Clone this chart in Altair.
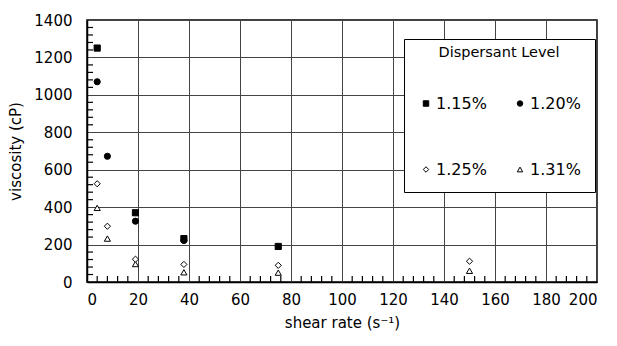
import altair as alt
import pandas as pd

levels = ["1.15%", "1.20%", "1.25%", "1.31%"]
shapes = ["square", "circle", "diamond", "triangle-up"]
fills = ["black", "black", "white", "white"]

rate_115 = [4, 19, 38, 75]
visc_115 = [1250, 370, 232, 190]
rate_120 = [4, 8, 19, 38]
visc_120 = [1070, 672, 325, 222]
rate_125 = [4, 8, 19, 38, 75, 150]
visc_125 = [525, 298, 122, 94, 89, 111]
rate_131 = [4, 8, 19, 38, 75, 150]
visc_131 = [396, 232, 96, 52, 50, 60]

x_major = list(range(0, 201, 20))
y_major = list(range(0, 1401, 200))
x_minor = [v for v in range(0, 201, 4) if v % 20 != 0]
y_minor = [v for v in range(0, 1401, 40) if v % 200 != 0]

rows = []
for lvl, xs, ys in [("1.31%", rate_131, visc_131), ("1.25%", rate_125, visc_125),
                    ("1.20%", rate_120, visc_120), ("1.15%", rate_115, visc_115)]:
    for x, y in zip(xs, ys):
        rows.append({"rate": x, "visc": y, "level": lvl})
df = pd.DataFrame(rows)

W, H = 510, 262
FONT = "DejaVu Sans"
TL = 6

xscale = alt.Scale(domain=[0, 200], nice=False, zero=True)
yscale = alt.Scale(domain=[0, 1400], nice=False, zero=True)

xaxis = alt.Axis(values=x_major, grid=True, tickSize=0, labelPadding=10, orient="bottom",
                 titlePadding=8, labelOverlap=False, format="d")
yaxis = alt.Axis(values=y_major, grid=True, tickSize=0, labelPadding=15, orient="left",
                 titlePadding=10, labelOverlap=False, format="d")

legend = alt.Legend(
    title="Dispersant Level", orient="none", legendX=317, legendY=19,
    columns=2, direction="horizontal", padding=14, titlePadding=28, rowPadding=50,
    columnPadding=25, titleBaseline="middle",
    titleAnchor="middle", titleFontSize=14.5, titleFontWeight="normal",
    labelFontSize=16, symbolSize=30, labelOffset=2,
    strokeColor="black", fillColor="white",
    symbolStrokeColor="black", symbolStrokeWidth=1,
)

points = alt.Chart(df).mark_point(filled=True, strokeWidth=1, opacity=1, size=38).encode(
    x=alt.X("rate:Q", scale=xscale, title="shear rate (s⁻¹)", axis=xaxis),
    y=alt.Y("visc:Q", scale=yscale, title="viscosity (cP)", axis=yaxis),
    shape=alt.Shape("level:N", scale=alt.Scale(domain=levels, range=shapes), legend=legend),
    fill=alt.Fill("level:N", scale=alt.Scale(domain=levels, range=fills), legend=legend),
    stroke=alt.Stroke("level:N", scale=alt.Scale(domain=levels, range=["black"] * 4), legend=legend),
)

xminor = alt.Chart(pd.DataFrame({"rate": x_minor})).mark_rule(
    color="black", strokeWidth=1.2, opacity=1).encode(
    x=alt.X("rate:Q", scale=xscale, axis=None),
    y=alt.value(H), y2=alt.value(H - TL))
yminor = alt.Chart(pd.DataFrame({"visc": y_minor})).mark_rule(
    color="black", strokeWidth=1.2, opacity=1).encode(
    y=alt.Y("visc:Q", scale=yscale, axis=None),
    x=alt.value(0), x2=alt.value(TL))

chart = alt.layer(points, xminor, yminor).resolve_axis(
    x="independent", y="independent"
).properties(
    width=W, height=H,
    autosize=alt.AutoSizeParams(type="none"),
    padding={"left": 87, "top": 20, "right": 20, "bottom": 64},
).configure(font=FONT).configure_axis(
    labelFont=FONT, titleFont=FONT, labelFontSize=15, titleFontSize=15,
    labelColor="black", titleColor="black", titleFontWeight="normal",
    domainColor="black", domainWidth=1.5, gridColor="#444", gridWidth=1, gridOpacity=1,
).configure_legend(labelFont=FONT, titleFont=FONT, labelColor="black", titleColor="black"
).configure_view(stroke="black", strokeWidth=1.5)

chart.save("out.html", embed_options={"renderer": "svg", "actions": False})
